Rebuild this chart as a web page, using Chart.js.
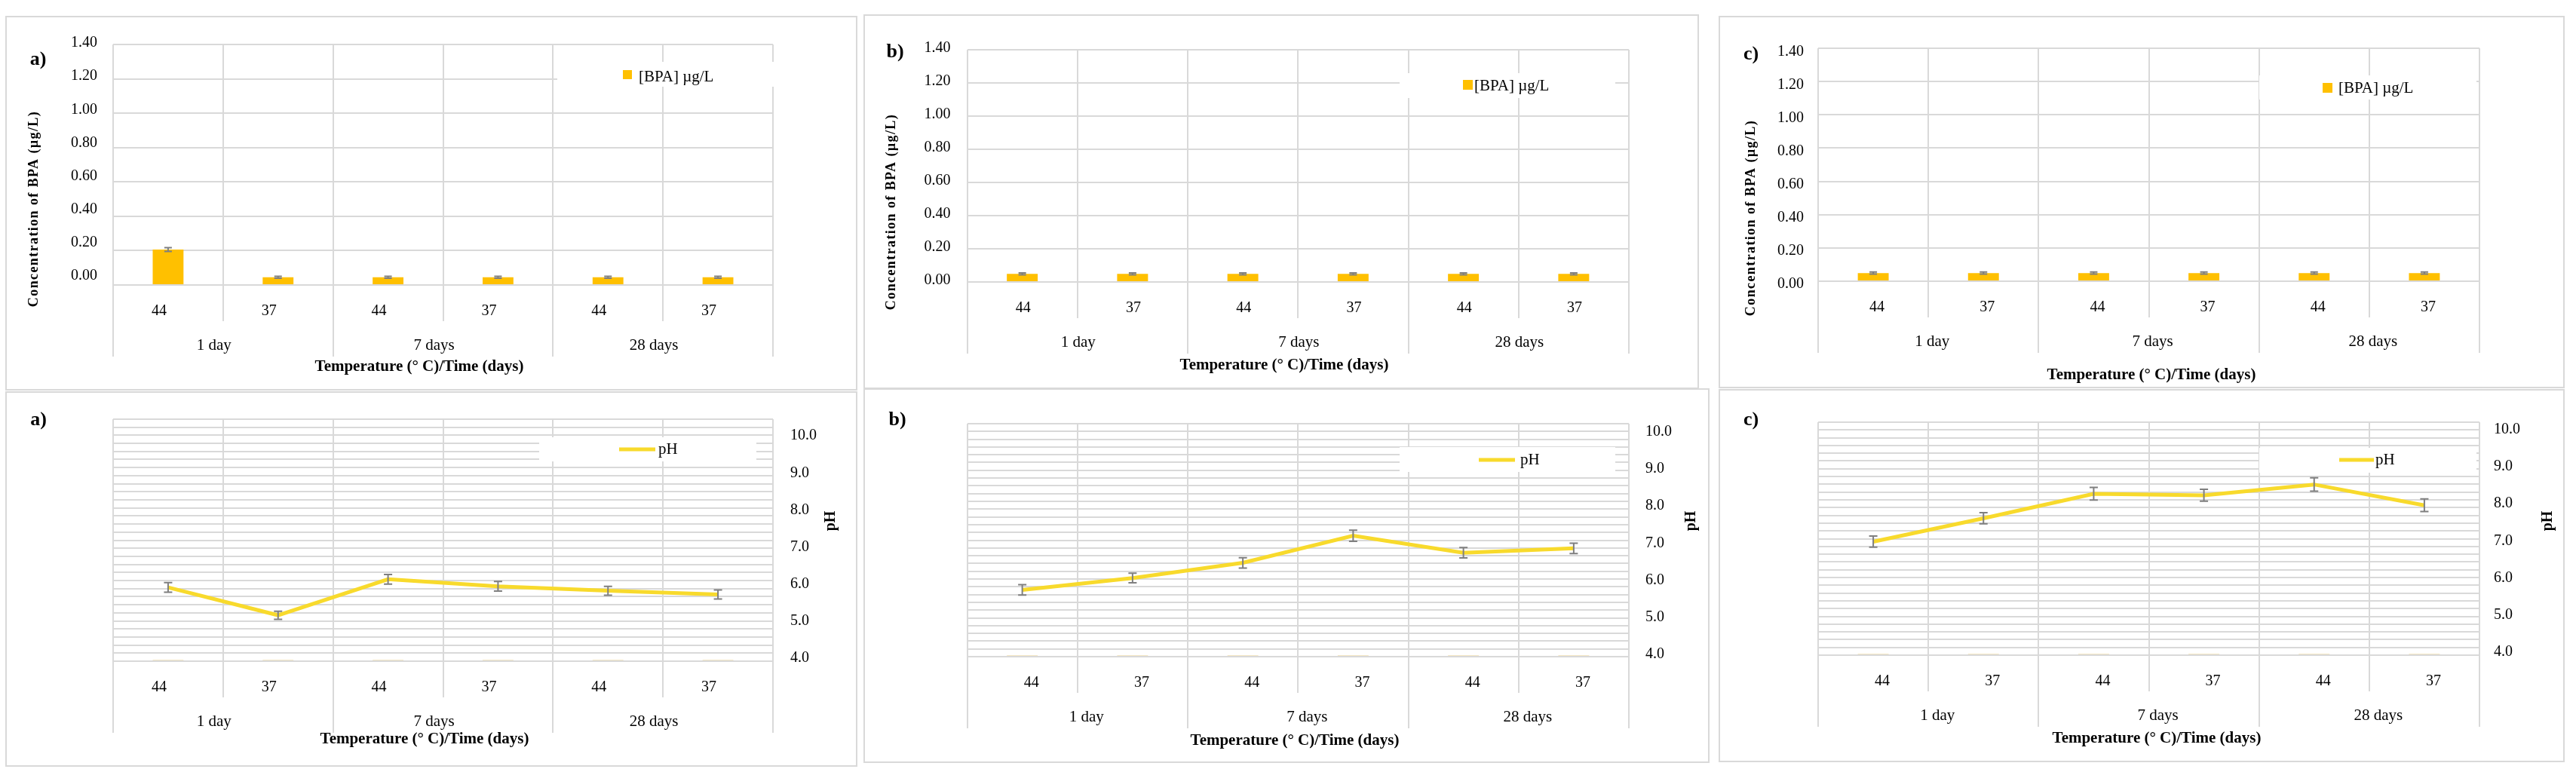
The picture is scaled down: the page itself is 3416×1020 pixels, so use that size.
<!DOCTYPE html>
<html><head><meta charset="utf-8">
<script src="https://cdn.jsdelivr.net/npm/chart.js@4.4.1/dist/chart.umd.min.js"></script>
<style>
html,body{margin:0;padding:0;background:#fff;}
body{width:3416px;height:1020px;position:relative;overflow:hidden;}
.box{position:absolute;box-sizing:border-box;border:2px solid #d9d9d9;}
canvas{position:absolute;}
</style></head><body>
<script>
// ---------- data ----------
const temperatures = ['44', '37', '44', '37', '44', '37'];
const timeGroups = ['1 day', '7 days', '28 days'];
const bpaTicks = [0, 0.2, 0.4, 0.6, 0.8, 1.0, 1.2, 1.4];
const phTicks = [4, 5, 6, 7, 8, 9, 10];

const bpaA = [0.206, 0.045, 0.045, 0.045, 0.045, 0.045];
const bpaErrA = [0.011, 0.006, 0.006, 0.006, 0.006, 0.006];
const bpaB = [0.049, 0.049, 0.049, 0.049, 0.049, 0.049];
const bpaErrB = [0.006, 0.006, 0.006, 0.006, 0.006, 0.006];
const bpaC = [0.049, 0.049, 0.049, 0.049, 0.049, 0.049];
const bpaErrC = [0.006, 0.006, 0.006, 0.006, 0.006, 0.006];

const phA = [5.91, 5.16, 6.13, 5.94, 5.82, 5.72];
const phErrA = [0.13, 0.11, 0.13, 0.13, 0.12, 0.12];
const phB = [5.74, 6.06, 6.47, 7.20, 6.74, 6.86];
const phErrB = [0.14, 0.13, 0.14, 0.15, 0.14, 0.14];
const phC = [6.98, 7.61, 8.27, 8.23, 8.52, 7.96];
const phErrC = [0.15, 0.15, 0.17, 0.16, 0.18, 0.17];
// faint BPA bars visible at the base of the pH panels (secondary scale)
const bpaBaseA = [0.008, 0.008, 0.008, 0.008, 0.008, 0.008];
const bpaBaseB = [0.008, 0.008, 0.008, 0.008, 0.008, 0.008];
const bpaBaseC = [0.008, 0.008, 0.008, 0.008, 0.008, 0.008];

const bpaLabel = '[BPA] µg/L';
const phLabel = 'pH';
const xTitle = 'Temperature (° C)/Time (days)';
const bpaYTitle = 'Concentration of BPA (µg/L)';
const phYTitle = 'pH';

// ---------- style / layout ----------
const GRID = '#d9d9d9';
const SERIF = "'Liberation Serif', 'Times New Roman', serif";
const BAR = '#FFC000';
const LINE = '#F8DA2C';
const ERR = '#7f7f7f';

const panels = [
  {kind:'bpa', box:[7,21,1137,518], plot:[150,59,1025,378], letter:'a)', letterAt:[50.5,79],
   data:bpaA, err:bpaErrA, labelRange:[-0.0544,1.391], labelPad:21, xShift:-12,
   xTitleAt:[556,487], yTitleAt:[45,277],
   legend:{box:[739,82,1027,115], swatch:[826,93,838,105], text:[847,102]}},
  {kind:'bpa', box:[1145,19,2253,516], plot:[1282.5,66,2160,374], letter:'b)', letterAt:[1187,69],
   data:bpaB, err:bpaErrB, labelRange:[-0.009,1.391], labelPad:22, xShift:1,
   xTitleAt:[1703,485], yTitleAt:[1182,281],
   legend:{box:[1856,97,2142,130], swatch:[1940,106,1953,119], text:[1955,114]}},
  {kind:'bpa', box:[2279,21,3401,515], plot:[2411,64,3288,373], letter:'c)', letterAt:[2322,72],
   data:bpaC, err:bpaErrC, labelRange:[0.018,1.4227], labelPad:19, xShift:5,
   xTitleAt:[2853,498], yTitleAt:[2322,289],
   legend:{box:[2996,100,3284,132], swatch:[3080,110,3093,123], text:[3101,117]}},
  {kind:'ph', box:[7,519,1137,1017], plot:[150,556,1025,877], letter:'a)', letterAt:[51,557],
   data:phA, err:phErrA, base:bpaBaseA, phRange:[3.92,10.45], phPad:23, xShift:-12,
   xTitleAt:[563,981], yTitleAt:[1102,691],
   legend:{box:[715,580,1003,612], swatch:[821,596,869,596], text:[873,596]}},
  {kind:'ph', box:[1145,515,2267,1012], plot:[1282.5,562,2160,871], letter:'b)', letterAt:[1190,557],
   data:phB, err:phErrB, base:bpaBaseB, phRange:[3.94,10.22], phPad:22, xShift:12,
   xTitleAt:[1717,983], yTitleAt:[2243,691],
   legend:{box:[1856,593,2142,626], swatch:[1961,610,2009,610], text:[2016,610]}},
  {kind:'ph', box:[2279,516,3401,1011], plot:[2411,560,3288,869], letter:'c)', letterAt:[2322,557],
   data:phC, err:phErrC, base:bpaBaseC, phRange:[3.92,10.2], phPad:19, xShift:12,
   xTitleAt:[2860,980], yTitleAt:[3379,691],
   legend:{box:[2996,594,3284,627], swatch:[3102,610,3148,610], text:[3150,610]}}
];

// ---------- plugin: error bars, legend box, panel texts ----------
const decor = {
  id: 'decor',
  afterDatasetsDraw(chart, args, o) {
    const ctx = chart.ctx;
    chart.data.datasets.forEach((ds, di) => {
      if (!ds.errors) return;
      const meta = chart.getDatasetMeta(di);
      const ys = chart.scales[meta.yAxisID];
      ctx.save();
      ctx.strokeStyle = ERR; ctx.lineWidth = 2;
      meta.data.forEach((el, i) => {
        const v = ds.data[i], e = ds.errors[i];
        const y1 = ys.getPixelForValue(v + e), y2 = ys.getPixelForValue(v - e);
        const x = el.x, c = o.cap;
        ctx.beginPath();
        ctx.moveTo(x, y1); ctx.lineTo(x, y2);
        ctx.moveTo(x - c, y1); ctx.lineTo(x + c, y1);
        ctx.moveTo(x - c, y2); ctx.lineTo(x + c, y2);
        ctx.stroke();
      });
      ctx.restore();
    });
  },
  afterDraw(chart, args, o) {
    const ctx = chart.ctx, ox = o.ox, oy = o.oy;
    ctx.save();
    // legend
    const lg = o.legend, ds = chart.data.datasets[0];
    ctx.fillStyle = '#fff';
    ctx.fillRect(lg.box[0] - ox, lg.box[1] - oy, lg.box[2] - lg.box[0], lg.box[3] - lg.box[1]);
    if (ds.type === 'line') {
      ctx.strokeStyle = ds.borderColor; ctx.lineWidth = 5;
      ctx.beginPath(); ctx.moveTo(lg.swatch[0] - ox, lg.swatch[1] - oy); ctx.lineTo(lg.swatch[2] - ox, lg.swatch[3] - oy); ctx.stroke();
    } else {
      ctx.fillStyle = ds.backgroundColor;
      ctx.fillRect(lg.swatch[0] - ox, lg.swatch[1] - oy, lg.swatch[2] - lg.swatch[0], lg.swatch[3] - lg.swatch[1]);
    }
    ctx.fillStyle = '#000';
    ctx.font = '21px ' + SERIF;
    ctx.textAlign = 'left'; ctx.textBaseline = 'middle';
    ctx.fillText(ds.label, lg.text[0] - ox, lg.text[1] - oy);
    // panel letter
    ctx.font = 'bold 26px ' + SERIF; ctx.textAlign = 'center';
    ctx.fillText(o.letter, o.letterAt[0] - ox, o.letterAt[1] - oy);
    // x title
    ctx.font = 'bold 21px ' + SERIF;
    ctx.fillText(o.xTitle, o.xTitleAt[0] - ox, o.xTitleAt[1] - oy);
    // y title (rotated, reads bottom to top)
    ctx.translate(o.yTitleAt[0] - ox, o.yTitleAt[1] - oy);
    ctx.rotate(-Math.PI / 2);
    ctx.font = o.yTitleFont;
    if (o.yTitleSpacing) { try { ctx.letterSpacing = o.yTitleSpacing; } catch (e) {} }
    ctx.fillText(o.yTitle, 0, 0);
    ctx.restore();
  }
};

const fixW = w => s => { s.width = w; };
const fixH = h => s => { s.height = h; };

function makeChart(p) {
  const [L, T, R, B] = p.box; const W = R - L, H = B - T;
  const [pl, pt, pr, pb] = p.plot;
  const div = document.createElement('div'); div.className = 'box';
  Object.assign(div.style, {left: L + 'px', top: T + 'px', width: W + 'px', height: H + 'px'});
  document.body.appendChild(div);
  const cv = document.createElement('canvas'); cv.width = W; cv.height = H;
  Object.assign(cv.style, {left: L + 'px', top: T + 'px', width: W + 'px', height: H + 'px'});
  document.body.appendChild(cv);

  const isBpa = p.kind === 'bpa';
  const scales = {
    x: {type: 'category', position: 'bottom', offset: true,
        grid: {offset: true, color: GRID, lineWidth: 2, tickLength: 48, drawTicks: true},
        border: {display: false},
        ticks: {font: {family: SERIF, size: 20}, color: '#000', padding: -25, labelOffset: p.xShift, autoSkip: false, maxRotation: 0},
        afterFit: fixH(48)},
    x2: {type: 'category', axis: 'x', position: 'bottom', labels: timeGroups, offset: true,
        grid: {offset: true, drawOnChartArea: false, color: GRID, lineWidth: 2, tickLength: 47, drawTicks: true},
        border: {display: false},
        ticks: {font: {family: SERIF, size: 21}, color: '#000', padding: -27.6, labelOffset: p.xShift, autoSkip: false, maxRotation: 0},
        afterFit: fixH(47)}
  };
  let datasets, padding;
  if (isBpa) {
    scales.y = {type: 'linear', axis: 'y', position: 'left', min: 0, max: 1.4,
        ticks: {display: false, stepSize: 0.2}, grid: {color: GRID, lineWidth: 2, drawTicks: false},
        border: {display: false}, afterFit: fixW(0)};
    scales.yl = {type: 'linear', axis: 'y', position: 'left', min: p.labelRange[0], max: p.labelRange[1],
        grid: {display: false, drawTicks: false}, border: {display: false},
        ticks: {font: {family: SERIF, size: 20}, color: '#000', padding: p.labelPad, callback: v => Number(v).toFixed(2)},
        afterBuildTicks: s => { s.ticks = bpaTicks.map(v => ({value: v})); },
        afterFit: fixW(pl - L)};
    datasets = [{type: 'bar', label: bpaLabel, data: p.data, errors: p.err, xAxisID: 'x', yAxisID: 'y',
        backgroundColor: BAR, borderWidth: 0, barPercentage: 0.28, categoryPercentage: 1}];
    padding = {left: 0, top: pt - T, right: R - pr, bottom: B - pb - 95};
  } else {
    scales.yb = {type: 'linear', axis: 'y', position: 'left', min: 0, max: 1.5,
        ticks: {display: false, stepSize: 0.05, maxTicksLimit: 100}, grid: {color: GRID, lineWidth: 2, drawTicks: false},
        border: {display: false}, afterFit: fixW(0)};
    scales.yph = {type: 'linear', axis: 'y', position: 'right', min: p.phRange[0], max: p.phRange[1],
        grid: {display: false, drawTicks: false}, border: {display: false},
        ticks: {font: {family: SERIF, size: 20}, color: '#000', padding: p.phPad, callback: v => Number(v).toFixed(1)},
        afterBuildTicks: s => { s.ticks = phTicks.map(v => ({value: v})); },
        afterFit: fixW(80)};
    datasets = [
      {type: 'line', label: phLabel, data: p.data, errors: p.err, xAxisID: 'x', yAxisID: 'yph',
       borderColor: LINE, backgroundColor: LINE, borderWidth: 5, pointRadius: 0, tension: 0, order: 0},
      {type: 'bar', label: bpaLabel, data: p.base, xAxisID: 'x', yAxisID: 'yb',
       backgroundColor: '#f1dfb0', borderWidth: 0, barPercentage: 0.28, categoryPercentage: 1, order: 1}
    ];
    padding = {left: pl - L, top: pt - T, right: R - pr - 80, bottom: B - pb - 95};
  }
  new Chart(cv, {
    type: 'bar',
    data: {labels: temperatures, datasets},
    options: {
      responsive: false, animation: false, devicePixelRatio: 1, events: [],
      layout: {padding},
      scales,
      plugins: {
        legend: {display: false}, tooltip: {enabled: false},
        decor: {ox: L, oy: T, cap: isBpa ? 5 : 5.5, legend: p.legend, letter: p.letter, letterAt: p.letterAt,
                xTitle: xTitle, xTitleAt: p.xTitleAt,
                yTitle: isBpa ? bpaYTitle : phYTitle, yTitleAt: p.yTitleAt,
                yTitleFont: isBpa ? 'bold 18px ' + SERIF : 'bold 20px ' + SERIF,
                yTitleSpacing: isBpa ? '1.4px' : null}
      }
    },
    plugins: [decor]
  });
}
panels.forEach(makeChart);
</script>
</body></html>
